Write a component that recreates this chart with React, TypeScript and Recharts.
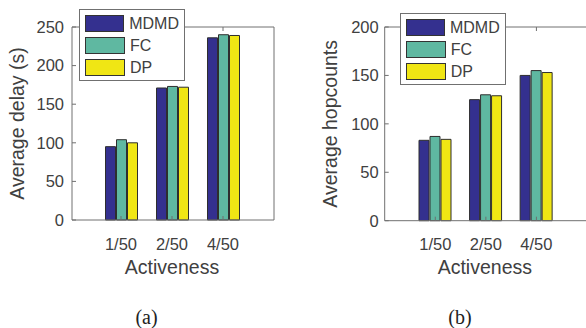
import React from 'react';
import { BarChart, Bar, XAxis, YAxis, Legend, Label } from 'recharts';

const categories = ['1/50', '2/50', '4/50'];
const seriesNames = ['MDMD', 'FC', 'DP'];
const delayMDMD = [95, 171, 236];
const delayFC = [104, 173, 240];
const delayDP = [100, 172, 239];
const hopMDMD = [83, 125, 150];
const hopFC = [87, 130, 155];
const hopDP = [84, 129, 153];
const delayTicks = [0, 50, 100, 150, 200, 250];
const hopTicks = [0, 50, 100, 150, 200];

const colors = ['#34308f', '#5fb8a1', '#f0e614'];
const FONT = '"Liberation Sans", Arial, Helvetica, sans-serif';
const AXIS = '#707070';
const TEXT = '#404040';

const delayData = categories.map((c, i) => ({ cat: c, MDMD: delayMDMD[i], FC: delayFC[i], DP: delayDP[i] }));
const hopData = categories.map((c, i) => ({ cat: c, MDMD: hopMDMD[i], FC: hopFC[i], DP: hopDP[i] }));

const LegendBox = (props: any) => {
  const items = [...(props.payload || [])].sort(
    (a: any, b: any) => seriesNames.indexOf(a.value) - seriesNames.indexOf(b.value)
  );
  return (
    <div style={{ border: `1px solid ${AXIS}`, background: '#fff', boxSizing: 'border-box', width: 106, height: 72, padding: '5px 5px', fontFamily: FONT }}>
      {items.map((p: any, i: number) => (
        <div key={i} style={{ display: 'flex', alignItems: 'center', height: 17, marginBottom: i < 2 ? 5 : 0 }}>
          <div style={{ width: 40, height: 17, background: p.color, border: '1px solid #333', boxSizing: 'border-box' }} />
          <span style={{ marginLeft: 5, fontSize: 16, color: TEXT, lineHeight: '17px' }}>{p.value}</span>
        </div>
      ))}
    </div>
  );
};

type PanelProps = {
  data: any[];
  ticks: number[];
  max: number;
  ylabel: string;
  width: number;
  margin: { top: number; right: number; bottom: number; left: number };
  padL: number;
  padR: number;
  legendPos: { left: number; top: number };
  labelX: number;
  tickMargin: number;
};

const Panel = (p: PanelProps) => {
  const tickStyle = { fontSize: 16.5, fill: TEXT, fontFamily: FONT };
  return (
    <BarChart width={p.width} height={290} data={p.data} margin={p.margin} barSize={10} barGap={1}>
      <XAxis xAxisId="b" dataKey="cat" type="category" padding={{ left: p.padL, right: p.padR }} height={1}
        axisLine={{ stroke: AXIS }} tickLine={{ stroke: AXIS }} tickSize={-4} tickMargin={22} tick={tickStyle} interval={0}>
        <Label content={(lp: any) => {
          const vb = lp.viewBox;
          return <text x={vb.x + vb.width / 2 - 1} y={267} textAnchor="middle" dominantBaseline="central" fontSize={19.5} fill={TEXT} fontFamily={FONT}>Activeness</text>;
        }} />
      </XAxis>
      <XAxis xAxisId="t" orientation="top" dataKey="cat" type="category" padding={{ left: p.padL, right: p.padR }} height={1}
        axisLine={{ stroke: AXIS }} tickLine={{ stroke: AXIS }} tickSize={-4} tickFormatter={() => ''} interval={0} />
      <YAxis yAxisId="l" type="number" domain={[0, p.max]} ticks={p.ticks} width={1} interval={0}
        axisLine={{ stroke: AXIS }} tickLine={{ stroke: AXIS }} tickSize={-4} tickMargin={p.tickMargin} tick={tickStyle}>
        <Label content={(lp: any) => {
          const vb = lp.viewBox;
          const cy = vb.y + vb.height / 2;
          return <text x={p.labelX} y={cy} transform={`rotate(-90 ${p.labelX} ${cy})`} textAnchor="middle" dominantBaseline="central" fontSize={19.5} fill={TEXT} fontFamily={FONT}>{p.ylabel}</text>;
        }} />
      </YAxis>
      <YAxis yAxisId="r" orientation="right" type="number" domain={[0, p.max]} ticks={p.ticks} width={1} interval={0}
        axisLine={{ stroke: AXIS }} tickLine={{ stroke: AXIS }} tickSize={-4} tickFormatter={() => ''} />
      <Legend content={<LegendBox />} layout="horizontal" verticalAlign="middle" align="center"
        wrapperStyle={{ position: 'absolute', left: p.legendPos.left, top: p.legendPos.top, width: 106, height: 72 }} />
      {seriesNames.map((s, i) => (
        <Bar key={s} xAxisId="b" yAxisId="l" dataKey={s} name={s} fill={colors[i]} stroke="#2e2e2e" strokeWidth={1} isAnimationActive={false} />
      ))}
    </BarChart>
  );
};

const captionStyle: React.CSSProperties = {
  position: 'absolute', top: 307, height: 20, lineHeight: '20px', transform: 'translateX(-50%)',
  fontFamily: '"Liberation Serif", "Times New Roman", serif', fontSize: 20, color: '#222',
};

export default function App() {
  return (
    <div style={{ position: 'absolute', left: 0, top: 0, width: 586, height: 328, overflow: 'hidden', background: '#fff' }}>
      <div style={{ position: 'absolute', left: 0, top: 0 }}>
        <Panel data={delayData} ticks={delayTicks} max={250} ylabel="Average delay (s)" width={293}
          margin={{ top: 26, right: 18, bottom: 69, left: 71 }} padL={23.5} padR={25.5}
          legendPos={{ left: 79, top: 9.3 }} labelX={17} tickMargin={12} />
      </div>
      <div style={{ position: 'absolute', left: 293, top: 0 }}>
        <Panel data={hopData} ticks={hopTicks} max={200} ylabel="Average hopcounts" width={300}
          margin={{ top: 26, right: 5, bottom: 68.3, left: 90.7 }} padL={25.3} padR={25.3}
          legendPos={{ left: 106.7, top: 13.3 }} labelX={37.3} tickMargin={10} />
      </div>
      <div style={{ ...captionStyle, left: 146.5 }}>(a)</div>
      <div style={{ ...captionStyle, left: 460 }}>(b)</div>
    </div>
  );
}
